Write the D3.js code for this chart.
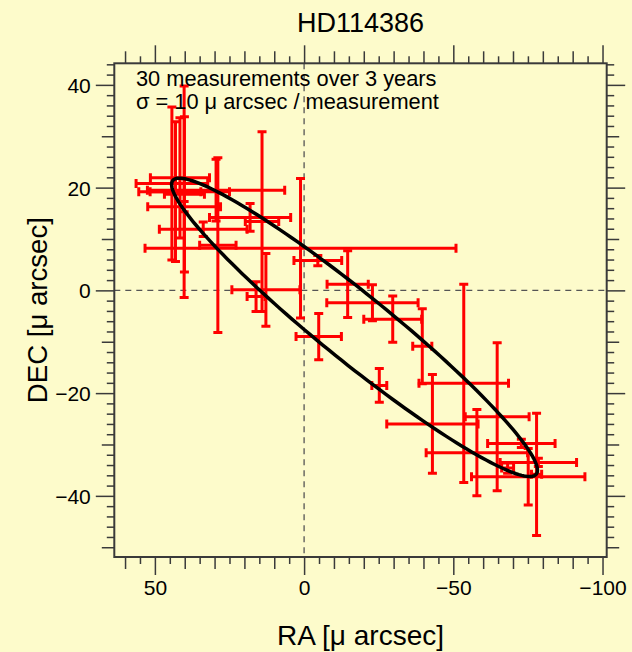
<!DOCTYPE html>
<html>
<head>
<meta charset="utf-8">
<script src="https://cdn.jsdelivr.net/npm/d3@7"></script>
<style>
  html, body { margin: 0; padding: 0; background: #fdfbcb; }
  svg { display: block; font-family: "Liberation Sans", Arial, Helvetica, sans-serif; }
</style>
</head>
<body>
<div id="chart"></div>
<script>
const title = "HD114386";
const notes = ["30 measurements over 3 years", "\u03c3 = 10 \u03bc arcsec / measurement"];
const xLabel = "RA [\u03bc arcsec]";
const yLabel = "DEC [\u03bc arcsec]";

const raDomain = [63.6, -101.4];
const decDomain = [44.2, -51.9];
const raTicks = [50, 0, -50, -100];
const decTicks = [40, 20, 0, -20, -40];

const ra     = [1.2, -4.6, -14.6, -22.9, -29.7, -39.6, -25.2, -53.5, -43.0, -57.9, -64.7, -72.8, -75.1, -77.9, -78.5,
                -4.9, 12.8, -68.2, 44.3, 41.6, 43.1, 40.2, 40.1, 40.2, 28.9, 29.5, 14.1, 18.1, 33.8, 16.1];
const dec    = [8.2, 5.8, 1.2, -2.4, -5.6, -10.9, -18.5, -18.1, -26.0, -31.6, -24.6, -29.8, -36.3, -35.8, -33.5,
                -9.0, 0.1, -34.6, 20.8, 21.9, 19.2, 19.2, 18.7, 16.3, 8.8, 19.5, 13.4, 14.2, 11.9, -1.2];
const raErr  = [52.1, 8.0, 6.9, 15.3, 9.7, 3.2, 2.5, 15.0, 15.3, 17.0, 10.7, 11.3, 19.0, 1.7, 12.8,
                7.6, 11.4, 2.0, 12.0, 9.9, 8.5, 15.2, 6.7, 12.2, 6.1, 23.0, 5.6, 13.6, 14.7, 3.0];
const decErr = [13.6, 1.0, 6.5, 3.5, 4.5, 7.3, 3.3, 19.3, 9.6, 8.4, 14.4, 0.8, 5.5, 11.9, 0.8,
                4.5, 7.1, 1.0, 14.9, 11.7, 13.6, 20.6, 15.1, 1.0, 17.0, 6.0, 17.5, 2.7, 1.4, 2.9];

// fitted orbit: centre and two conjugate semi-diameters
const orbitCenter = [-16.9, -7.2];
const orbitU = [-61.3, -27.8];
const orbitV = [0, -8.4];

const width = 632, height = 652;
const margin = { top: 63.3, right: 25.3, bottom: 95, left: 114.3 };
const red = "#ff0000", ink = "#3a3a3a";
const cap = 4.5;

const x = d3.scaleLinear().domain(raDomain).range([margin.left, width - margin.right]);
const y = d3.scaleLinear().domain(decDomain).range([margin.top, height - margin.bottom]);

const svg = d3.select("#chart").append("svg")
  .attr("width", width)
  .attr("height", height);

svg.append("rect")
  .attr("width", width)
  .attr("height", height)
  .attr("fill", "#fdfbcb");

// zero lines
const zero = svg.append("g")
  .attr("stroke", "#555")
  .attr("stroke-width", 1.3)
  .attr("stroke-dasharray", "6,5");
zero.append("line")
  .attr("x1", x(0)).attr("x2", x(0))
  .attr("y1", margin.top).attr("y2", height - margin.bottom);
zero.append("line")
  .attr("x1", margin.left).attr("x2", width - margin.right)
  .attr("y1", y(0)).attr("y2", y(0));

// error bars
const points = ra.map((r, i) => ({ ra: r, dec: dec[i], er: raErr[i], ed: decErr[i] }));

const bars = svg.append("g")
  .attr("stroke", red)
  .attr("stroke-width", 3)
  .selectAll("g")
  .data(points)
  .join("g");

bars.append("path")
  .attr("fill", "none")
  .attr("d", d => {
    const x0 = x(d.ra + d.er), x1 = x(d.ra - d.er), yc = y(d.dec);
    const y0 = y(d.dec + d.ed), y1 = y(d.dec - d.ed), xc = x(d.ra);
    return `M${x0},${yc}H${x1}` +
      `M${x0},${yc - cap}V${yc + cap}M${x1},${yc - cap}V${yc + cap}` +
      `M${xc},${y0}V${y1}` +
      `M${xc - cap},${y0}H${xc + cap}M${xc - cap},${y1}H${xc + cap}`;
  });

// orbit
const orbit = d3.range(0, 360, 2).map(a => {
  const t = a * Math.PI / 180;
  return [
    orbitCenter[0] + orbitU[0] * Math.cos(t) + orbitV[0] * Math.sin(t),
    orbitCenter[1] + orbitU[1] * Math.cos(t) + orbitV[1] * Math.sin(t)
  ];
});

svg.append("path")
  .datum(orbit)
  .attr("fill", "none")
  .attr("stroke", "#000")
  .attr("stroke-width", 3.5)
  .attr("d", d3.line().x(d => x(d[0])).y(d => y(d[1])).curve(d3.curveLinearClosed));

// axes: major, medium and minor ticks on all four sides
const xMid = d3.range(60, -101, -10).filter(v => v % 50 !== 0);
const xMinor = d3.range(55, -100, -10);
const yMid = d3.range(-50, 45, 10).filter(v => v % 20 !== 0);
const yMinor = d3.range(-50, 45, 2).filter(v => v % 10 !== 0);

function ticks(axisFn, scale, values, size, pos, labels) {
  const g = svg.append("g")
    .attr("transform", pos)
    .call(axisFn(scale)
      .tickValues(values)
      .tickSize(size)
      .tickPadding(5)
      .tickFormat(labels ? d3.format("d") : ""));
  g.select(".domain").remove();
  g.selectAll("line").attr("stroke", ink).attr("stroke-width", 1.5);
  g.selectAll("text").attr("fill", "#000").style("font-size", "21px")
    .style("font-family", "\"Liberation Sans\", Arial, sans-serif");
  return g;
}

const atBottom = `translate(0,${height - margin.bottom})`;
const atTop = `translate(0,${margin.top})`;
const atLeft = `translate(${margin.left},0)`;
const atRight = `translate(${width - margin.right},0)`;

ticks(d3.axisBottom, x, raTicks, 18, atBottom, true);
ticks(d3.axisBottom, x, xMid, 12, atBottom, false);
ticks(d3.axisBottom, x, xMinor, 7, atBottom, false);
ticks(d3.axisTop, x, raTicks, 18, atTop, false);
ticks(d3.axisTop, x, xMid, 12, atTop, false);
ticks(d3.axisTop, x, xMinor, 7, atTop, false);

ticks(d3.axisLeft, y, decTicks, 18.5, atLeft, true).selectAll("text").attr("dy", "0.36em");
ticks(d3.axisLeft, y, yMid, 12.5, atLeft, false);
ticks(d3.axisLeft, y, yMinor, 7.5, atLeft, false);
ticks(d3.axisRight, y, decTicks, 18.5, atRight, false);
ticks(d3.axisRight, y, yMid, 12.5, atRight, false);
ticks(d3.axisRight, y, yMinor, 7.5, atRight, false);

// frame
svg.append("rect")
  .attr("x", margin.left)
  .attr("y", margin.top)
  .attr("width", width - margin.left - margin.right)
  .attr("height", height - margin.top - margin.bottom)
  .attr("fill", "none")
  .attr("stroke", ink)
  .attr("stroke-width", 2);

// texts
const cx = (margin.left + width - margin.right) / 2;
const cy = (margin.top + height - margin.bottom) / 2;

svg.append("text")
  .attr("x", cx)
  .attr("y", 31.7)
  .attr("text-anchor", "middle")
  .style("font-size", "27px")
  .text(title);

svg.append("g")
  .selectAll("text")
  .data(notes)
  .join("text")
  .attr("x", 136)
  .attr("y", (d, i) => 85.7 + i * 23.3)
  .style("font-size", "21.8px")
  .text(d => d);

svg.append("text")
  .attr("x", cx)
  .attr("y", 645)
  .attr("text-anchor", "middle")
  .style("font-size", "28px")
  .text(xLabel);

svg.append("text")
  .attr("transform", `translate(46.7,${cy}) rotate(-90)`)
  .attr("text-anchor", "middle")
  .style("font-size", "27.6px")
  .text(yLabel);
</script>
</body>
</html>
